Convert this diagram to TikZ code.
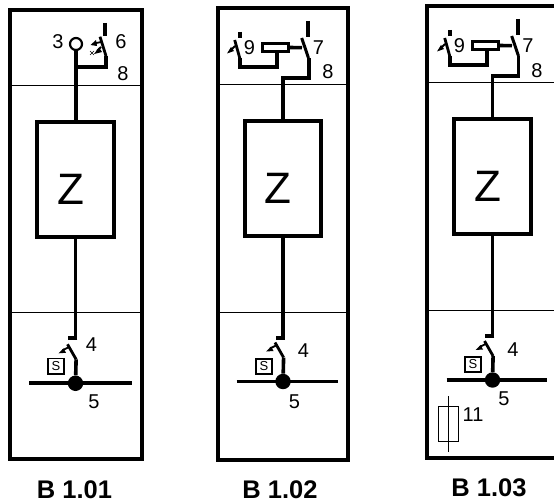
\documentclass[tikz,border=0pt]{standalone}
\usepackage{fontspec}
\setmainfont{Liberation Sans}
\usetikzlibrary{calc}
\tikzset{
 frame/.style={draw,line width=4.2pt,line join=miter},
 sep/.style={draw,line width=1pt},
 wire/.style={draw,line width=3.6pt,line join=miter},
 zbox/.style={draw,line width=4pt,minimum width=76.8pt,minimum height=115pt,inner sep=0pt},
 ztxt/.style={inner sep=0pt,font=\fontsize{44}{44}\selectfont},
 blade/.style={draw,line width=2.8pt},
 dot/.style={circle,fill=black,inner sep=0pt,minimum size=15.4pt},
 sbox/.style={draw,line width=1.6pt,minimum size=15.5pt,inner sep=0pt,font=\fontsize{13}{13}\selectfont},
 num/.style={inner sep=0pt,font=\fontsize{20}{20}\selectfont},
 captxt/.style={inner sep=0pt,font=\bfseries\fontsize{25.5}{25.5}\selectfont},
 act/.style={draw,line width=1.8pt},
 relay/.style={draw,line width=3.4pt,minimum width=25.5pt,minimum height=8pt,inner sep=0pt},
 fuse/.style={draw,line width=1pt,minimum width=20pt,minimum height=35pt,inner sep=0pt}
}
\newcommand{\lowerpart}[7]{%
 % #1 name, #2 x of stem, #3 bus y, #4 Z node, #5 x of bus left, #6 x of bus right, #7 tick y
 \coordinate (#1t) at (#2,#7);
 \coordinate (#1l) at (#2-7.5,#7);
 \draw[wire] (#4.south -| #1t) -- (#1t) ;
 \draw[line width=3.6pt] (#2+1.8,#7) -- (#1l);
 \node[dot] (#1dot) at (#2,#3) {};
 \coordinate (#1bl) at (#5,#3);
 \coordinate (#1br) at (#6,#3);
 \draw[line width=3.8pt] (#1bl) -- (#1br);
 \coordinate (#1k) at (#2+.6,#3-24);
 \coordinate (#1m) at (#2-8,#3-39);
 \draw[wire] (#1dot) -- (#1k);
 \draw[blade] (#1k) -- (#1m);
 \coordinate (#1a) at (#2-7,#3-36);
 \coordinate (#1b) at (#2-13,#3-33);
 \coordinate (#1c) at (#2-17,#3-30);
 \draw[act] (#1a) -- (#1b);
 \fill (#1c) -- ++(5,-5) -- ++(2.5,4.5) -- cycle;
}
\newcommand{\upperpart}[5]{%
 \begin{scope}[shift={(#2,#3)}]
 \draw[line width=3.4pt] (69,21) -- (69,37);
 \draw[line width=2.8pt] (-4.3,40) -- (1.3,60);
 \draw[act] (-4,46) -- (-8,50);
 \fill (-12,53.5) -- (-8,47) -- (-5,51) -- cycle;
 \draw[line width=3.6pt] (1,32) -- (1,38);
 \draw[wire] (1,58) -- (1,67) -- (38,67) -- (38,53);
 \node[relay] (#1rel) at (36.5,47.5) {};
 \draw[wire] (#1rel.east) -- (63,47.7);
 \draw[line width=3pt] (62.7,38) -- (69.5,58);
 \end{scope}
}
\begin{document}
\begin{tikzpicture}[x=1pt,y=-1pt]
\useasboundingbox (0,0) rectangle (554,503);
% ---- panel 1
\draw[frame] (10,10) rectangle (142,459);
\draw[sep] (10,85) -- (142,85);
\draw[sep] (10,312.5) -- (142,312.5);
\node[zbox] (z1) at (75.4,179.3) {};
\node[ztxt] at (71,189) {Z};
\node[circle,draw,line width=2.2pt,minimum size=12pt,inner sep=0pt] (lamp) at (76,44) {};
\coordinate (j1) at (76,67);
\coordinate (s1a) at (106,67);
\coordinate (s1b) at (106,56);
\coordinate (s1c) at (100,36.7);
\coordinate (s1d) at (105,23);
\coordinate (s1e) at (105,36);
\draw[wire] (lamp) -- (lamp |- z1.north);
\draw[wire] (j1) -- (s1a) -- (s1b);
\draw[blade] (s1b) -- (s1c);
\draw[line width=3.6pt] (s1d) -- (s1e);
\draw[line width=1.8pt] (101,42) -- (94,43.5) (101,47) -- (97,51);
\fill (90.5,45) -- (96,40) -- (97,46) -- cycle (94,54) -- (99,47.5) -- (102,52) -- cycle;
\draw[line width=.6pt] (90,51) -- (94,55) (94,51) -- (90,55);
\node[num] at (58,42) {3};
\node[num] at (121,42) {6};
\node[num] at (123,74) {8};
\lowerpart{a}{75.5}{383.3}{z1}{29.3}{132.3}{338}
\node[sbox] at (56,366.3) {S};
\node[num] at (91.5,345) {4};
\node[num] at (94,402) {5};
\node[captxt] at (74.5,490) {B 1.01};
% ---- panel 2
\draw[frame] (218,8) rectangle (348,460);
\draw[sep] (218,84.5) -- (348,84.5);
\draw[sep] (218,312.5) -- (348,312.5);
\node[zbox] (z2) at (283,178) {};
\node[ztxt] at (278,188.7) {Z};
\upperpart{b}{239}{0}{z2}{283}
\draw[wire] (309,58) -- (309,78) -- (283,78) -- (z2.north);
\node[num] at (318.5,48) {7};
\node[num] at (249.5,48) {9};
\node[num] at (328,72) {8};
\lowerpart{c}{283}{381.5}{z2}{236.5}{337.5}{338}
\node[sbox] at (264,366.5) {S};
\node[num] at (303.5,351) {4};
\node[num] at (294.5,402) {5};
\node[captxt] at (280,490) {B 1.02};
% ---- panel 3
\draw[frame] (556,6) -- (427,6) -- (427,458) -- (556,458);
\draw[sep] (427,82) -- (556,82);
\draw[sep] (427,310.5) -- (556,310.5);
\node[zbox] (z3) at (492.5,176.3) {};
\node[ztxt] at (487.8,186.4) {Z};
\upperpart{d}{449}{-2}{z3}{492}
\draw[wire] (518.5,56) -- (518.5,76) -- (492.5,76) -- (z3.north);
\node[num] at (528,46) {7};
\node[num] at (459.5,46) {9};
\node[num] at (537,71) {8};
\lowerpart{e}{492.5}{380}{z3}{446.5}{547}{336}
\node[sbox] at (473,364.5) {S};
\node[num] at (513,350) {4};
\node[num] at (504,399) {5};
\node[fuse] (fu) at (448.5,424) {};
\draw[line width=1pt] (fu.center |- 0,396) -- (fu.center |- 0,452);
\node[num] at (473,415) {11};
\node[captxt] at (489,488) {B 1.03};
\end{tikzpicture}
\end{document}
